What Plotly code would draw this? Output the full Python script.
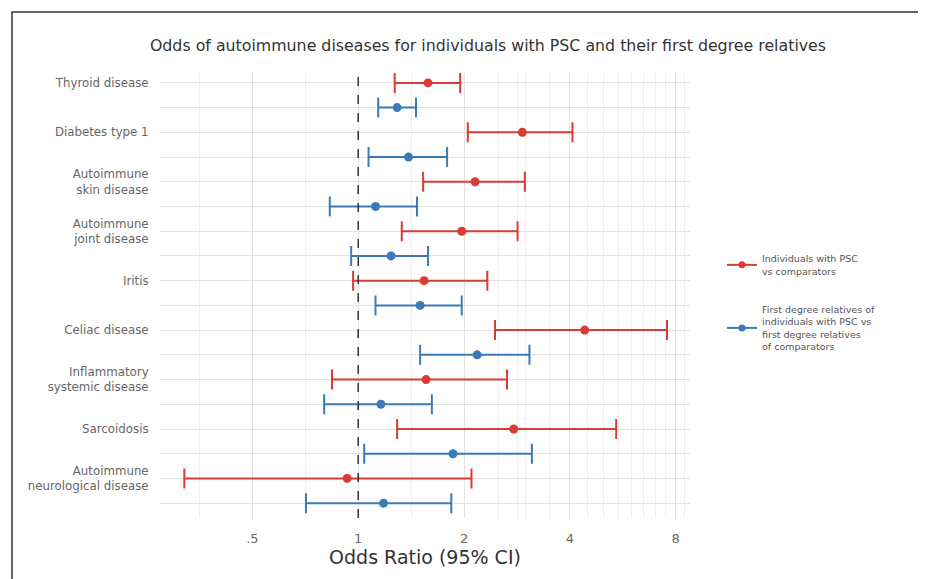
import plotly.graph_objects as go

categories = ["Thyroid disease", "Diabetes type 1", "Autoimmune<br>skin disease",
              "Autoimmune<br>joint disease", "Iritis", "Celiac disease",
              "Inflammatory<br>systemic disease", "Sarcoidosis",
              "Autoimmune<br>neurological disease"]

psc_or = [1.58, 2.93, 2.15, 1.97, 1.54, 4.41, 1.56, 2.77, 0.93]
psc_lo = [1.27, 2.05, 1.53, 1.33, 0.967, 2.45, 0.842, 1.29, 0.32]
psc_hi = [1.95, 4.07, 2.98, 2.84, 2.33, 7.56, 2.65, 5.42, 2.10]

fdr_or = [1.29, 1.39, 1.12, 1.24, 1.50, 2.18, 1.16, 1.86, 1.18]
fdr_lo = [1.14, 1.07, 0.83, 0.955, 1.12, 1.50, 0.80, 1.04, 0.71]
fdr_hi = [1.46, 1.79, 1.47, 1.58, 1.97, 3.07, 1.62, 3.12, 1.84]

tick_vals = [0.5, 1, 2, 4, 8]
tick_text = [".5", "1", "2", "4", "8"]
minor_vals = [0.354, 0.707, 1.414, 2.5, 2.83, 3, 3.5, 4.5, 5, 5.5, 6, 6.5, 7, 7.5, 8.5]

series_names = ["Individuals with PSC<br>vs comparators",
                "First degree relatives of<br>individuals with PSC vs<br>first degree relatives<br>of comparators"]
RED = "#d93b35"
BLUE = "#3b7bb5"
FONT = "DejaVu Sans, Liberation Sans, Arial, sans-serif"

# page body has an 8px margin; layout coordinates below are offset by it
OFF = 8
W, H = 926 - OFF, 579 - OFF
L, T = 160 - OFF, 73 - OFF
PW, PH = 530, 445
R, B = W - L - PW, H - T - PH

n = len(categories)
y_red = [2 * i for i in range(n)]
y_blue = [2 * i + 1 for i in range(n)]

fig = go.Figure()

for yv, orv, lo, hi, col in [(y_red, psc_or, psc_lo, psc_hi, RED),
                             (y_blue, fdr_or, fdr_lo, fdr_hi, BLUE)]:
    fig.add_trace(go.Scatter(
        x=orv, y=yv, mode="markers",
        marker=dict(color=col, size=9),
        error_x=dict(type="data", symmetric=False,
                     array=[h - o for h, o in zip(hi, orv)],
                     arrayminus=[o - l for o, l in zip(orv, lo)],
                     color=col, thickness=2, width=10),
        showlegend=False, hoverinfo="skip"))

for name, col, grp in [(series_names[0], RED, "a"), (series_names[1], BLUE, "b")]:
    fig.add_trace(go.Scatter(
        x=[None], y=[None], mode="lines+markers", name=name,
        line=dict(color=col, width=2), marker=dict(color=col, size=7),
        legendgroup=grp))

fig.add_vline(x=1, line=dict(color="#333333", width=1.5, dash="dash"))

def px_x(p):
    return (p - OFF - L) / PW

def px_y(p):
    return (T + PH - (p - OFF)) / PH

# outer frame
fig.add_shape(type="rect", xref="paper", yref="paper",
              x0=px_x(12), x1=px_x(919), y0=px_y(600), y1=px_y(12),
              line=dict(color="#333333", width=1.5), fillcolor="rgba(0,0,0,0)")

ytickvals = list(range(2 * n))
yticktext = []
for c in categories:
    yticktext += [c, ""]

fig.update_layout(
    width=W, height=H,
    margin=dict(l=L, r=R, t=T, b=B),
    paper_bgcolor="white", plot_bgcolor="white",
    font=dict(family=FONT, color="#444444"),
    title=dict(text="Odds of autoimmune diseases for individuals with PSC and their first degree relatives",
               x=(488 - OFF) / W, xref="container", y=1 - (45 - OFF) / H, yref="container",
               xanchor="center", yanchor="middle",
               font=dict(size=15.8, color="#333333")),
    xaxis=dict(type="log", range=[-0.564, 0.944],
               tickvals=tick_vals, ticktext=tick_text,
               tickfont=dict(size=13, color="#666666"),
               showgrid=True, gridcolor="#e2e2e2", gridwidth=1,
               minor=dict(tickvals=minor_vals, showgrid=True,
                          gridcolor="#eeeeee", gridwidth=1, ticks=""),
               zeroline=False, showline=False,
               ticks="outside", ticklen=8, tickcolor="rgba(0,0,0,0)",
               title=dict(text="Odds Ratio (95% CI)", standoff=6,
                          font=dict(size=19, color="#333333"))),
    yaxis=dict(range=[17.6, -0.4], tickvals=ytickvals, ticktext=yticktext,
               tickfont=dict(size=11.8, color="#666666"),
               showgrid=True, gridcolor="#e2e2e2", gridwidth=1,
               zeroline=False, showline=False,
               ticks="outside", ticklen=8, tickcolor="rgba(0,0,0,0)"),
    legend=dict(x=px_x(722), y=px_y(246), xanchor="left", yanchor="top",
                traceorder="grouped", tracegroupgap=23,
                font=dict(size=9.5, color="#555555"), bgcolor="rgba(0,0,0,0)"),
)

fig.write_html("out.html")
